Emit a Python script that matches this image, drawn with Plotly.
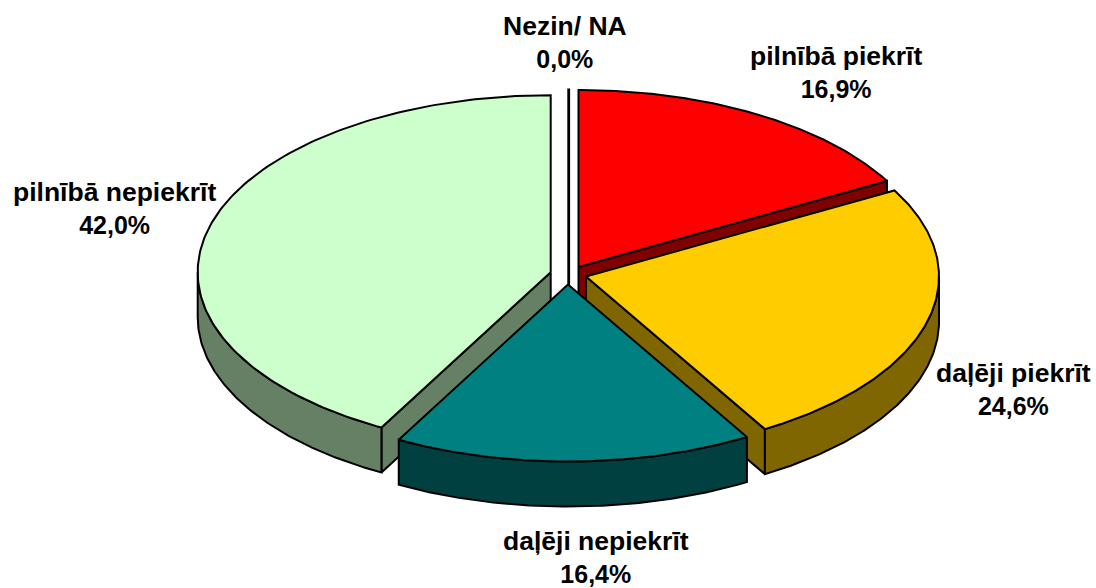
import numpy as np
import plotly.graph_objects as go

# data
categories = ["pilnībā piekrīt", "daļēji piekrīt", "daļēji nepiekrīt", "pilnībā nepiekrīt", "Nezin/ NA"]
values = [16.9, 24.6, 16.4, 42.0, 0.0]
value_labels = ["16,9%", "24,6%", "16,4%", "42,0%", "0,0%"]

# style / layout
top_colors = ["#FF0000", "#FFCC00", "#008080", "#CCFFCC", "#000000"]
side_colors = ["#800000", "#806600", "#004040", "#668066", "#000000"]
apex_x = [578.5, 586.0, 568.0, 550.7, 568.7]
apex_y = [267.0, 276.5, 284.5, 272.2, 265.5]
label_x = [836, 1013, 596, 114, 565]
label_y = [72, 389, 557, 208, 42]
RX, RY, DEPTH = 353.0, 177.0, 45.0
draw_order = [0, 4, 3, 1, 2]

total = sum(values)
edges = np.concatenate([[0.0], np.cumsum(values)]) / total * 2 * np.pi

fig = go.Figure()


def poly(x, y, fill, width=2.0):
    fig.add_trace(go.Scatter(x=x, y=y, mode="lines", fill="toself", fillcolor=fill,
                             line=dict(color="#000000", width=width),
                             hoverinfo="skip", showlegend=False))


for i in draw_order:
    ax, ay = apex_x[i], apex_y[i]
    t0, t1 = edges[i], edges[i + 1]
    if values[i] == 0:
        poly([ax, ax + RX * np.sin(t1), ax], [ay + DEPTH, ay - RY * np.cos(t1), ay + DEPTH],
             top_colors[i], 2.8)
        continue
    # radial walls
    for t, visible in ((t1, np.sin(t1) > 0.01), (t0, np.sin(t0) < -0.01)):
        if visible:
            ex, ey = ax + RX * np.sin(t), ay - RY * np.cos(t)
            poly([ax, ex, ex, ax, ax], [ay, ey, ey + DEPTH, ay + DEPTH, ay], side_colors[i])
    # outer rim (lower half of the ellipse only)
    r0, r1 = max(t0, np.pi / 2), min(t1, 3 * np.pi / 2)
    if r1 > r0:
        th = np.linspace(r0, r1, 120)
        rx = ax + RX * np.sin(th)
        ry = ay - RY * np.cos(th)
        poly(np.r_[rx, rx[::-1], rx[0]], np.r_[ry, ry[::-1] + DEPTH, ry[0]], side_colors[i])
    # top face
    th = np.linspace(t0, t1, 160)
    poly(np.r_[ax, ax + RX * np.sin(th), ax], np.r_[ay, ay - RY * np.cos(th), ay], top_colors[i])

for name, val, x, y in zip(categories, value_labels, label_x, label_y):
    fig.add_annotation(x=x, y=y, xref="x", yref="y", showarrow=False, align="center",
                       text=f"<b><span style=\"font-size:26.5px\">{name}</span><br>{val}</b>",
                       font=dict(family="Liberation Sans, Arial, sans-serif", size=25, color="#000000"))

fig.update_layout(width=1096, height=588, margin=dict(l=0, r=0, t=0, b=0),
                  paper_bgcolor="#FFFFFF", plot_bgcolor="#FFFFFF", showlegend=False)
fig.update_xaxes(range=[0, 1096], visible=False, fixedrange=True)
fig.update_yaxes(range=[588, 0], visible=False, fixedrange=True)

fig.write_html("out.html", config={"displayModeBar": False},
               post_script="document.body.style.margin='0';document.documentElement.style.overflow='hidden';")
